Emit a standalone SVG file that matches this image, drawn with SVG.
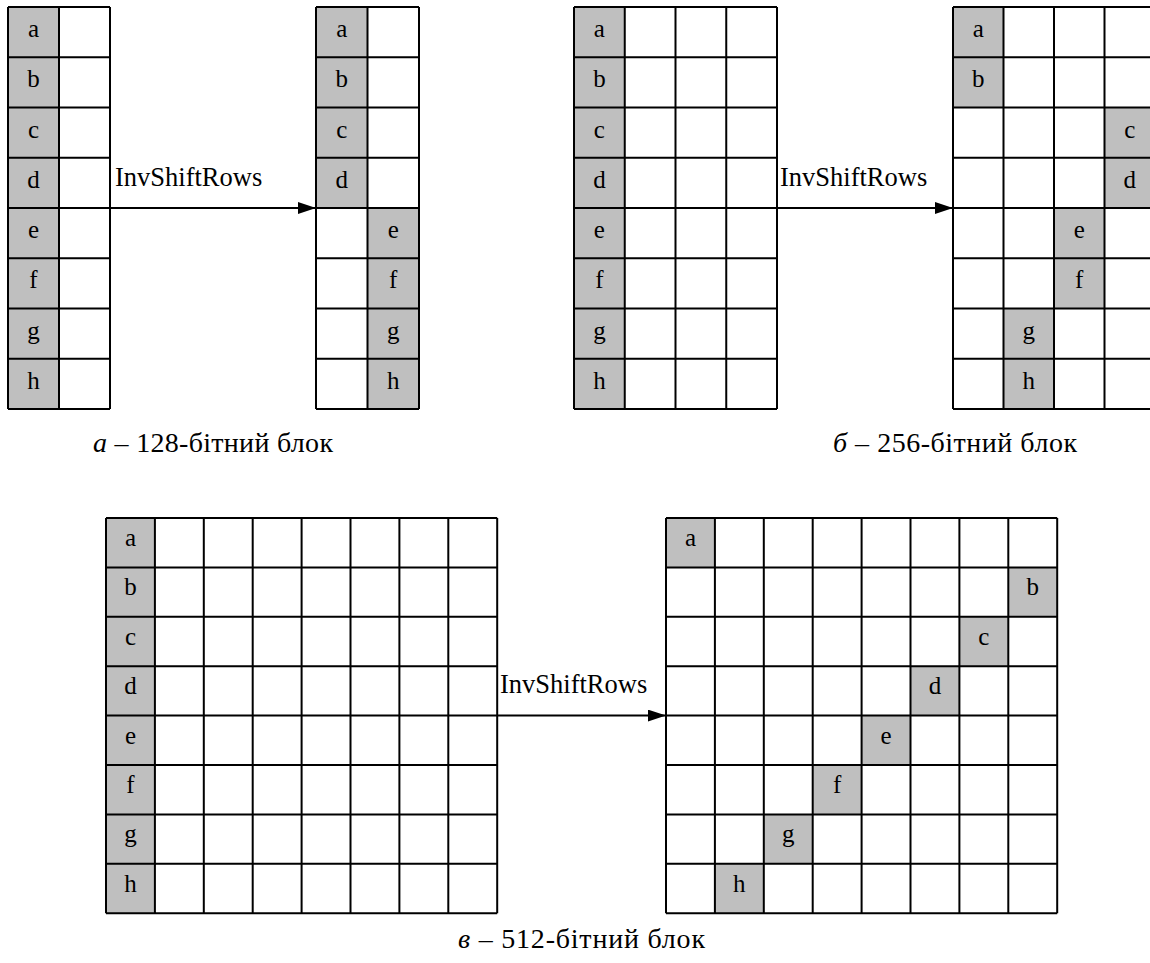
<svg xmlns="http://www.w3.org/2000/svg" width="1150" height="963" viewBox="0 0 1150 963" font-family="'Liberation Serif', 'DejaVu Serif', serif">
<style>
.bg{fill:#ffffff}
.g{fill:#bfbfbf}
.ln{fill:none;stroke:#000;stroke-width:2}
.t{font-family:'Liberation Serif', 'DejaVu Serif', serif;font-size:25px;fill:#000;text-anchor:middle}
.lbl{font-family:'Liberation Serif', 'DejaVu Serif', serif;font-size:26.5px;fill:#000}
.cap{font-family:'Liberation Serif', 'DejaVu Serif', serif;font-size:28px;fill:#000}
.arr{stroke:#000;stroke-width:2;fill:none}
</style>
<defs>
<marker id="ah" markerUnits="userSpaceOnUse" markerWidth="18" markerHeight="12" refX="18" refY="6" orient="auto">
<path d="M0,0 L18,6 L0,12 z" fill="#000"/>
</marker>
</defs>
<rect width="1150" height="963" class="bg"/>

<g id="gridA-in" transform="translate(8,7)">
<rect class="g" x="0" y="0" width="51" height="402"/>
<path class="ln" d="M0,0V402M51,0V402M102,0V402M0,0H102M0,50.25H102M0,100.5H102M0,150.75H102M0,201H102M0,251.25H102M0,301.5H102M0,351.75H102M0,402H102"/>
<text class="t" x="25.5" y="30">a</text><text class="t" x="25.5" y="80.25">b</text><text class="t" x="25.5" y="130.5">c</text><text class="t" x="25.5" y="180.75">d</text><text class="t" x="25.5" y="231">e</text><text class="t" x="25.5" y="281.25">f</text><text class="t" x="25.5" y="331.5">g</text><text class="t" x="25.5" y="381.75">h</text>
</g>

<g id="gridA-out" transform="translate(316,7)">
<rect class="g" x="0" y="0" width="51.5" height="201"/>
<rect class="g" x="51.5" y="201" width="51.5" height="201"/>
<path class="ln" d="M0,0V402M51.5,0V402M103,0V402M0,0H103M0,50.25H103M0,100.5H103M0,150.75H103M0,201H103M0,251.25H103M0,301.5H103M0,351.75H103M0,402H103"/>
<text class="t" x="25.75" y="30">a</text><text class="t" x="25.75" y="80.25">b</text><text class="t" x="25.75" y="130.5">c</text><text class="t" x="25.75" y="180.75">d</text><text class="t" x="77.25" y="231">e</text><text class="t" x="77.25" y="281.25">f</text><text class="t" x="77.25" y="331.5">g</text><text class="t" x="77.25" y="381.75">h</text>
</g>

<g id="gridB-in" transform="translate(574,7)">
<rect class="g" x="0" y="0" width="50.75" height="402"/>
<path class="ln" d="M0,0V402M50.75,0V402M101.5,0V402M152.25,0V402M203,0V402M0,0H203M0,50.25H203M0,100.5H203M0,150.75H203M0,201H203M0,251.25H203M0,301.5H203M0,351.75H203M0,402H203"/>
<text class="t" x="25.4" y="30">a</text><text class="t" x="25.4" y="80.25">b</text><text class="t" x="25.4" y="130.5">c</text><text class="t" x="25.4" y="180.75">d</text><text class="t" x="25.4" y="231">e</text><text class="t" x="25.4" y="281.25">f</text><text class="t" x="25.4" y="331.5">g</text><text class="t" x="25.4" y="381.75">h</text>
</g>

<g id="gridB-out" transform="translate(953,7)">
<rect class="g" x="0" y="0" width="50.5" height="100.5"/>
<rect class="g" x="151.5" y="100.5" width="50.5" height="100.5"/>
<rect class="g" x="101" y="201" width="50.5" height="100.5"/>
<rect class="g" x="50.5" y="301.5" width="50.5" height="100.5"/>
<path class="ln" d="M0,0V402M50.5,0V402M101,0V402M151.5,0V402M202,0V402M0,0H202M0,50.25H202M0,100.5H202M0,150.75H202M0,201H202M0,251.25H202M0,301.5H202M0,351.75H202M0,402H202"/>
<text class="t" x="25.25" y="30">a</text><text class="t" x="25.25" y="80.25">b</text><text class="t" x="176.75" y="130.5">c</text><text class="t" x="176.75" y="180.75">d</text><text class="t" x="126.25" y="231">e</text><text class="t" x="126.25" y="281.25">f</text><text class="t" x="75.75" y="331.5">g</text><text class="t" x="75.75" y="381.75">h</text>
</g>

<g id="gridC-in" transform="translate(106,518)">
<rect class="g" x="0" y="0" width="48.9" height="395.2"/>
<path class="ln" d="M0,0V395.2M48.9,0V395.2M97.8,0V395.2M146.7,0V395.2M195.6,0V395.2M244.5,0V395.2M293.4,0V395.2M342.3,0V395.2M391.2,0V395.2M0,0H391.2M0,49.4H391.2M0,98.8H391.2M0,148.2H391.2M0,197.6H391.2M0,247H391.2M0,296.4H391.2M0,345.8H391.2M0,395.2H391.2"/>
<text class="t" x="24.45" y="28">a</text><text class="t" x="24.45" y="77.4">b</text><text class="t" x="24.45" y="126.8">c</text><text class="t" x="24.45" y="176.2">d</text><text class="t" x="24.45" y="225.6">e</text><text class="t" x="24.45" y="275">f</text><text class="t" x="24.45" y="324.4">g</text><text class="t" x="24.45" y="373.8">h</text>
</g>

<g id="gridC-out" transform="translate(666,518)">
<rect class="g" x="0" y="0" width="48.9" height="49.4"/>
<rect class="g" x="342.3" y="49.4" width="48.9" height="49.4"/>
<rect class="g" x="293.4" y="98.8" width="48.9" height="49.4"/>
<rect class="g" x="244.5" y="148.2" width="48.9" height="49.4"/>
<rect class="g" x="195.6" y="197.6" width="48.9" height="49.4"/>
<rect class="g" x="146.7" y="247" width="48.9" height="49.4"/>
<rect class="g" x="97.8" y="296.4" width="48.9" height="49.4"/>
<rect class="g" x="48.9" y="345.8" width="48.9" height="49.4"/>
<path class="ln" d="M0,0V395.2M48.9,0V395.2M97.8,0V395.2M146.7,0V395.2M195.6,0V395.2M244.5,0V395.2M293.4,0V395.2M342.3,0V395.2M391.2,0V395.2M0,0H391.2M0,49.4H391.2M0,98.8H391.2M0,148.2H391.2M0,197.6H391.2M0,247H391.2M0,296.4H391.2M0,345.8H391.2M0,395.2H391.2"/>
<text class="t" x="24.45" y="28">a</text><text class="t" x="366.75" y="77.4">b</text><text class="t" x="317.85" y="126.8">c</text><text class="t" x="268.95" y="176.2">d</text><text class="t" x="220.05" y="225.6">e</text><text class="t" x="171.15" y="275">f</text><text class="t" x="122.25" y="324.4">g</text><text class="t" x="73.35" y="373.8">h</text>
</g>

<g id="connectors">
<line class="arr" x1="110" y1="208" x2="316" y2="208" marker-end="url(#ah)"/>
<line class="arr" x1="777" y1="208" x2="953" y2="208" marker-end="url(#ah)"/>
<line class="arr" x1="497" y1="715.6" x2="666" y2="715.6" marker-end="url(#ah)"/>
<text class="lbl" x="115" y="186">InvShiftRows</text>
<text class="lbl" x="780" y="186">InvShiftRows</text>
<text class="lbl" x="500" y="693">InvShiftRows</text>
</g>

<g id="captions">
<text class="cap" x="93" y="452" textLength="240" lengthAdjust="spacing"><tspan font-style="italic">а</tspan> – 128-бітний блок</text>
<text class="cap" x="833" y="452" textLength="244" lengthAdjust="spacing"><tspan font-style="italic">б</tspan> – 256-бітний блок</text>
<text class="cap" x="458" y="948" textLength="247" lengthAdjust="spacing"><tspan font-style="italic">в</tspan> – 512-бітний блок</text>
</g>
</svg>
